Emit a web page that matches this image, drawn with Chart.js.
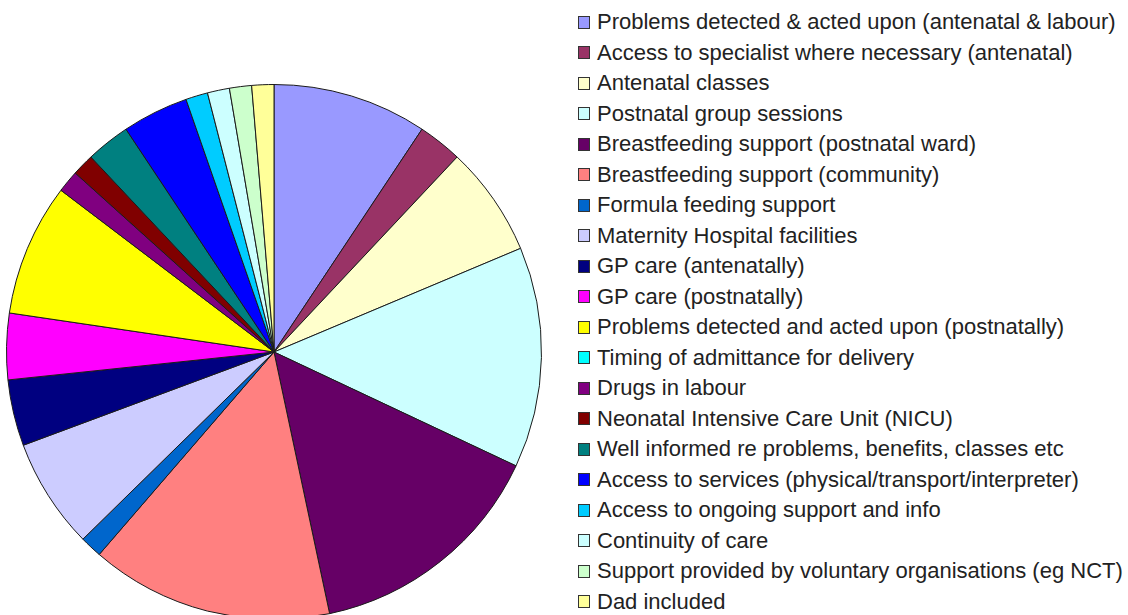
<!DOCTYPE html>
<html>
<head>
<meta charset="utf-8">
<script src="https://cdn.jsdelivr.net/npm/chart.js@4/dist/chart.umd.min.js"></script>
<style>
    html, body {
        margin: 0;
        padding: 0;
        background: #ffffff;
        overflow: hidden;
    }
    #page {
        position: relative;
        width: 1128px;
        height: 615px;
        overflow: hidden;
    }
    #pieBox {
        position: absolute;
        left: 0;
        top: 0;
        width: 548px;
        height: 625px;
    }
    #legend {
        position: absolute;
        left: 578px;
        top: 7px;
        margin: 0;
        padding: 0;
        list-style: none;
        font-family: 'Liberation Sans', Arial, sans-serif;
        font-size: 22px;
        color: #222;
    }
    #legend li {
        display: flex;
        align-items: center;
        height: 30.5px;
        white-space: nowrap;
    }
    #legend .box {
        width: 10px;
        height: 11px;
        border: 1px solid #333;
        margin-right: 7px;
        flex: none;
    }
</style>
</head>
<body>
<div id="page">
    <div id="pieBox"><canvas id="pieChart"></canvas></div>
    <ul id="legend"></ul>
</div>
<script>
const categories = [
    'Problems detected & acted upon (antenatal & labour)',
    'Access to specialist where necessary (antenatal)',
    'Antenatal classes',
    'Postnatal group sessions',
    'Breastfeeding support (postnatal ward)',
    'Breastfeeding support (community)',
    'Formula feeding support',
    'Maternity Hospital facilities',
    'GP care (antenatally)',
    'GP care (postnatally)',
    'Problems detected and acted upon (postnatally)',
    'Timing of admittance for delivery',
    'Drugs in labour',
    'Neonatal Intensive Care Unit (NICU)',
    'Well informed re problems, benefits, classes etc',
    'Access to services (physical/transport/interpreter)',
    'Access to ongoing support and info',
    'Continuity of care',
    'Support provided by voluntary organisations (eg NCT)',
    'Dad included'
];

const responses = [7, 2, 5, 10, 11, 11, 1, 5, 3, 3, 6, 0, 1, 1, 2, 3, 1, 1, 1, 1];

const sliceColors = [
    '#9999ff', '#993366', '#ffffcc', '#ccffff', '#660066',
    '#ff8080', '#0066cc', '#ccccff', '#000080', '#ff00ff',
    '#ffff00', '#00ffff', '#800080', '#800000', '#008080',
    '#0000ff', '#00ccff', '#ccffff', '#ccffcc', '#ffff99'
];

const htmlLegend = {
    id: 'htmlLegend',
    afterUpdate(chart) {
        const list = document.getElementById('legend');
        list.innerHTML = '';
        const items = chart.options.plugins.legend.labels.generateLabels(chart);
        items.forEach(item => {
            const li = document.createElement('li');
            const box = document.createElement('span');
            box.className = 'box';
            box.style.background = item.fillStyle;
            const text = document.createElement('span');
            text.textContent = item.text;
            li.appendChild(box);
            li.appendChild(text);
            list.appendChild(li);
        });
    }
};

const ctx = document.getElementById('pieChart').getContext('2d');
new Chart(ctx, {
    type: 'pie',
    data: {
        labels: categories,
        datasets: [{
            data: responses,
            backgroundColor: sliceColors,
            borderColor: '#1a1a1a',
            borderWidth: 1
        }]
    },
    options: {
        responsive: true,
        maintainAspectRatio: false,
        animation: false,
        layout: {
            padding: { left: 6, right: 6, top: 84, bottom: 5 }
        },
        plugins: {
            legend: { display: false },
            tooltip: { enabled: false }
        }
    },
    plugins: [htmlLegend]
});
</script>
</body>
</html>
